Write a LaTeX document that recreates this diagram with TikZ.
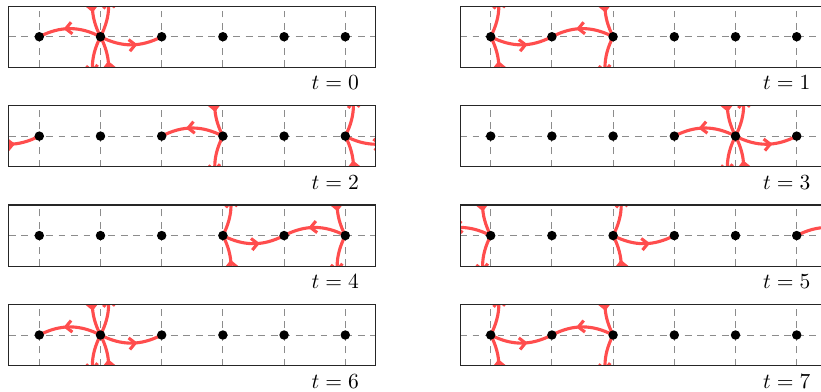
\documentclass[tikz,border=0pt]{standalone}
\usetikzlibrary{arrows.meta,decorations.markings}
\definecolor{edgered}{RGB}{255,77,77}
\tikzset{
  framebox/.style={draw=black!85, line width=0.55pt},
  gridline/.style={draw=black!45, line width=0.45pt, dash pattern=on 3.2pt off 2.6pt},
  redge/.style={draw=edgered, line width=1.45pt, bend right=27, postaction={decorate},
    decoration={markings, mark=at position 0.6 with {\arrow{Straight Barb[length=2.8pt,width=5.4pt]}}}},
  site/.style={circle, fill=black, inner sep=0pt, minimum size=4.4pt},
  tlabel/.style={anchor=base east, inner sep=0pt},
}
\newcommand\pname{}
\newcommand\pe[2]{\draw[redge] (\pname-#1) to (\pname-#2);}
\newcommand\rpar[1]{\pe{#1-u}{#1}\pe{#1}{#1-d}}
\newcommand\lpar[1]{\pe{#1-d}{#1}\pe{#1}{#1-u}}
\newcommand\panel[4]{%
  \begin{scope}[shift={#2}]
    \renewcommand\pname{#1}
    \foreach \k in {-1,...,6} {
      \coordinate (#1-\k) at (\k,0);
      \coordinate (#1-\k-u) at (\k,1);
      \coordinate (#1-\k-d) at (\k,-1);
    }
    \foreach \k in {0,...,5} \draw[gridline] (\k,-0.5) -- (\k,0.5);
    \draw[gridline] (-0.5,0) -- (5.5,0);
    \begin{scope}
      \clip (-0.5,-0.5) rectangle (5.5,0.5);
      #4
    \end{scope}
    \draw[framebox] (-0.5,-0.5) rectangle (5.5,0.5);
    \foreach \k in {0,...,5} \node[site] (#1-s\k) at (#1-\k) {};
    \node[tlabel] (#1-lab) at (5.23,-0.87) {$t=#3$};
  \end{scope}}
\begin{document}
\begin{tikzpicture}
\useasboundingbox (0,0) rectangle (13.415,-6.405);
\clip (0,0) rectangle (13.415,-6.405);
\panel{pa}{(0.642,-0.600)}{0}{\pe{1}{0}\pe{1}{2}\rpar{1}\lpar{1}}
\panel{pb}{(8.018,-0.600)}{1}{\lpar{0}\pe{0}{1}\pe{2}{1}\rpar{2}}
\panel{pc}{(0.642,-2.224)}{2}{\pe{5}{6}\pe{-1}{0}\pe{3}{2}\rpar{3}\lpar{5}}
\panel{pd}{(8.018,-2.224)}{3}{\pe{4}{3}\pe{4}{5}\rpar{4}\lpar{4}}
\panel{pe}{(0.642,-3.849)}{4}{\lpar{3}\pe{3}{4}\pe{5}{4}\rpar{5}}
\panel{pf}{(8.018,-3.849)}{5}{\rpar{0}\pe{6}{5}\pe{0}{-1}\lpar{2}\pe{2}{3}}
\panel{pg}{(0.642,-5.474)}{6}{\pe{1}{0}\pe{1}{2}\rpar{1}\lpar{1}}
\panel{ph}{(8.018,-5.474)}{7}{\lpar{0}\pe{0}{1}\pe{2}{1}\rpar{2}}
\end{tikzpicture}
\end{document}
